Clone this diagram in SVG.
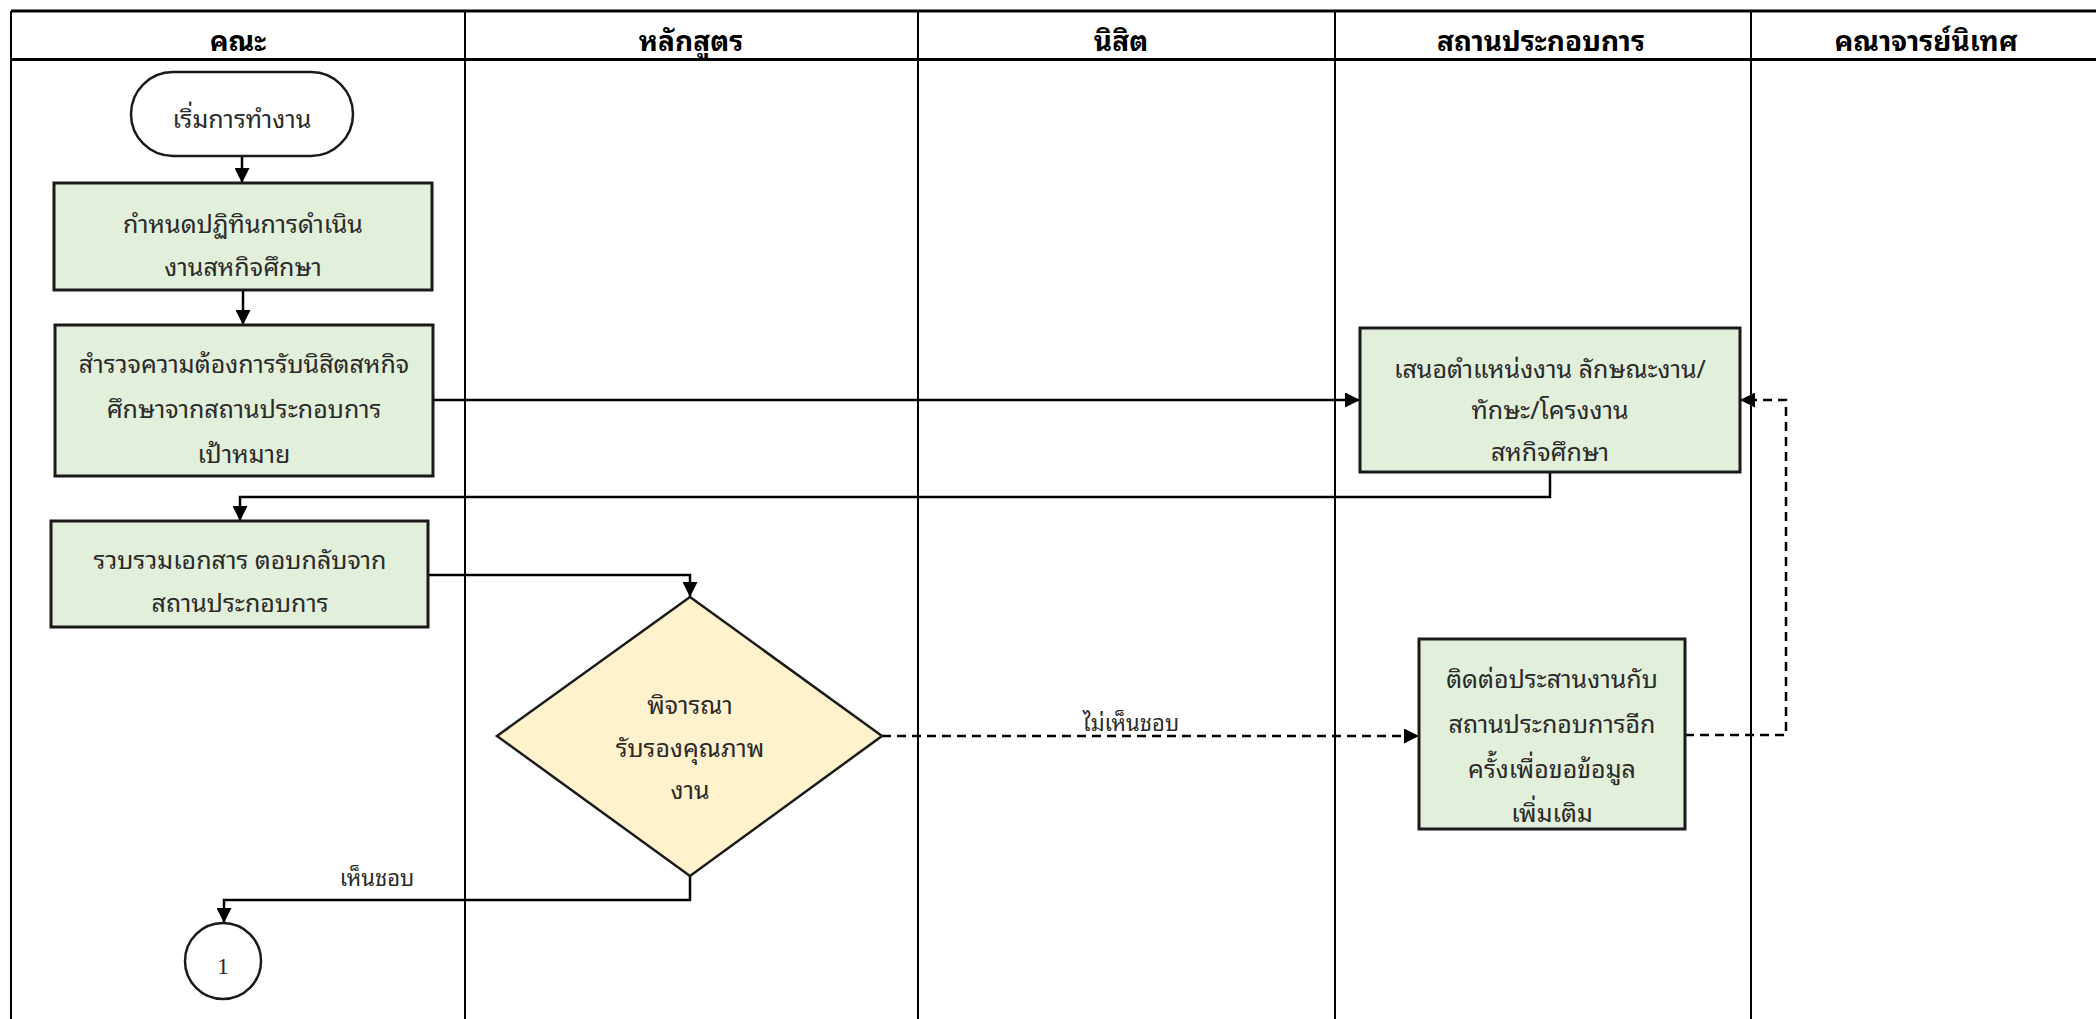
<svg xmlns="http://www.w3.org/2000/svg" width="2096" height="1019" viewBox="0 0 2096 1019">
<style>
  .hdr{font-family:"Noto Sans Thai Looped","Noto Sans Thai","Noto Sans","DejaVu Sans",sans-serif;font-size:28px;font-weight:bold;fill:#000;text-anchor:middle;dominant-baseline:central}
  .t{font-family:"Noto Sans Thai Looped","Noto Sans Thai","Noto Sans","DejaVu Sans",sans-serif;font-size:25px;fill:#2a2a2a;text-anchor:middle;dominant-baseline:central}
  .lbl{font-family:"Noto Sans Thai Looped","Noto Sans Thai","Noto Sans","DejaVu Sans",sans-serif;font-size:22px;fill:#2a2a2a;text-anchor:middle;dominant-baseline:central}
  .num{font-family:"Liberation Serif",serif;font-size:24px;fill:#2a2a2a;text-anchor:middle;dominant-baseline:central}
  .box{fill:#E2EFDA;stroke:#1a1a1a;stroke-width:3}
  .dec{fill:#FFF2CC;stroke:#1a1a1a;stroke-width:2.5}
  .term{fill:#fff;stroke:#1a1a1a;stroke-width:2.5}
  .lane{stroke:#000;stroke-width:2;fill:none}
  .laneh{stroke:#000;stroke-width:3;fill:none}
  .c{fill:none;stroke:#000;stroke-width:2.5}
  .d{fill:none;stroke:#000;stroke-width:2.5;stroke-dasharray:9 6}
</style>
<defs>
  <marker id="ah" markerUnits="userSpaceOnUse" markerWidth="15" markerHeight="15" refX="15" refY="7.5" orient="auto">
    <path d="M0,0 L15,7.5 L0,15 z" fill="#000"/>
  </marker>
</defs>
<rect x="0" y="0" width="2096" height="1019" fill="#fff"/>
<g id="lanes">
  <line class="laneh" x1="11" y1="11" x2="2105" y2="11"/>
  <line class="laneh" x1="11" y1="59.5" x2="2105" y2="59.5"/>
  <line class="lane" x1="11" y1="11" x2="11" y2="1025"/>
  <line class="lane" x1="465" y1="11" x2="465" y2="1025"/>
  <line class="lane" x1="918" y1="11" x2="918" y2="1025"/>
  <line class="lane" x1="1335" y1="11" x2="1335" y2="1025"/>
  <line class="lane" x1="1751" y1="11" x2="1751" y2="1025"/>
  <text class="hdr" x="238" y="38">คณะ</text>
  <text class="hdr" x="691" y="38">หลักสูตร</text>
  <text class="hdr" x="1121" y="38">นิสิต</text>
  <text class="hdr" x="1541" y="38">สถานประกอบการ</text>
  <text class="hdr" x="1926" y="38">คณาจารย์นิเทศ</text>
</g>
<g id="connectors">
  <path class="c" d="M242,156 V183" marker-end="url(#ah)"/>
  <path class="c" d="M243,290 V325" marker-end="url(#ah)"/>
  <path class="c" d="M433,400 H1360" marker-end="url(#ah)"/>
  <path class="c" d="M1550,472 V497 H240 V521" marker-end="url(#ah)"/>
  <path class="c" d="M428,575 H690 V597" marker-end="url(#ah)"/>
  <path class="c" d="M690,876 V900 H224 V923" marker-end="url(#ah)"/>
  <path class="d" d="M882,736 H1419" marker-end="url(#ah)"/>
  <path class="d" d="M1685,735 H1786 V400 H1740" marker-end="url(#ah)"/>
  <text class="lbl" x="377" y="876">เห็นชอบ</text>
  <text class="lbl" x="1131" y="721">ไม่เห็นชอบ</text>
</g>
<g id="start">
  <rect class="term" x="131" y="72" width="222" height="84" rx="42" ry="42"/>
  <text class="t" x="242" y="117">เริ่มการทำงาน</text>
</g>
<g id="calendar">
  <rect class="box" x="54" y="183" width="378" height="107"/>
  <text class="t" x="243" y="222">กำหนดปฏิทินการดำเนิน</text>
  <text class="t" x="243" y="265">งานสหกิจศึกษา</text>
</g>
<g id="survey">
  <rect class="box" x="55" y="325" width="378" height="151"/>
  <text class="t" x="244" y="362">สำรวจความต้องการรับนิสิตสหกิจ</text>
  <text class="t" x="244" y="407">ศึกษาจากสถานประกอบการ</text>
  <text class="t" x="244" y="452">เป้าหมาย</text>
</g>
<g id="collect">
  <rect class="box" x="51" y="521" width="377" height="106"/>
  <text class="t" x="240" y="558">รวบรวมเอกสาร ตอบกลับจาก</text>
  <text class="t" x="240" y="601">สถานประกอบการ</text>
</g>
<g id="offer">
  <rect class="box" x="1360" y="328" width="380" height="144"/>
  <text class="t" x="1550" y="367">เสนอตำแหน่งงาน ลักษณะงาน/</text>
  <text class="t" x="1550" y="408">ทักษะ/โครงงาน</text>
  <text class="t" x="1550" y="450">สหกิจศึกษา</text>
</g>
<g id="decision">
  <polygon class="dec" points="690,597 882,736 690,876 497,736"/>
  <text class="t" x="690" y="703">พิจารณา</text>
  <text class="t" x="690" y="746">รับรองคุณภาพ</text>
  <text class="t" x="690" y="788">งาน</text>
</g>
<g id="contact">
  <rect class="box" x="1419" y="639" width="266" height="190"/>
  <text class="t" x="1552" y="677">ติดต่อประสานงานกับ</text>
  <text class="t" x="1552" y="722">สถานประกอบการอีก</text>
  <text class="t" x="1552" y="767">ครั้งเพื่อขอข้อมูล</text>
  <text class="t" x="1552" y="811">เพิ่มเติม</text>
</g>
<g id="connector1">
  <ellipse class="term" cx="223" cy="961" rx="38" ry="38"/>
  <text class="num" x="223" y="966">1</text>
</g>
</svg>
